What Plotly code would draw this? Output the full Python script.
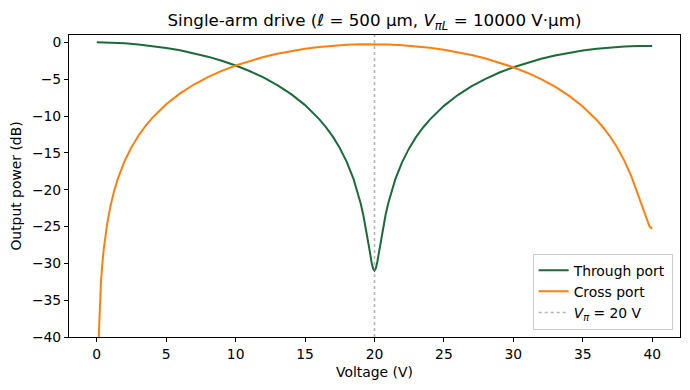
import plotly.graph_objects as go

# ---- data ----
V_PI = 20
Y_MIN, Y_MAX = -40, 1.0

through_v = [0, 1, 2, 3, 4, 5, 6, 7, 8, 9, 10, 11, 12, 13, 14, 15, 16, 16.5, 17, 17.5,
             18, 18.5, 19, 19.2, 19.4, 19.6, 19.8, 19.9, 20, 20.1, 20.2, 20.4, 20.6, 20.8,
             21, 21.5, 22, 22.5, 23, 23.5, 24, 25, 26, 27, 28, 29, 30, 31, 32, 33, 34,
             35, 36, 37, 38, 39, 40]
through_db = [0.000, -0.039, -0.133, -0.281, -0.486, -0.750, -1.078, -1.472, -1.941, -2.491,
              -3.134, -3.885, -4.763, -5.797, -7.027, -8.518, -10.378, -11.501, -12.802, -14.343,
              -16.221, -18.609, -21.842, -23.504, -25.458, -27.707, -29.951, -30.735, -31.003,
              -30.656, -29.821, -27.557, -25.330, -23.402, -21.763, -18.572, -16.214, -14.359,
              -12.838, -11.555, -10.448, -8.619, -7.157, -5.954, -4.948, -4.096, -3.372, -2.754,
              -2.230, -1.787, -1.417, -1.115, -0.876, -0.696, -0.573, -0.504, -0.489]

cross_v = [0.1, 0.2, 0.3, 0.4, 0.5, 0.75, 1, 1.25, 1.5, 2, 2.5, 3, 3.5, 4, 5, 6, 7, 8, 9,
           10, 11, 12, 13, 14, 15, 16, 17, 18, 19, 20, 21, 22, 23, 24, 25, 26, 27, 28, 29,
           30, 31, 32, 33, 34, 35, 36, 36.5, 37, 37.5, 38, 38.5, 39, 39.2, 39.4, 39.6, 39.8,
           39.9, 40]
cross_db = [-42.10, -36.08, -32.56, -30.06, -28.13, -24.61, -22.12, -20.19, -18.61, -16.14,
            -14.23, -12.67, -11.37, -10.25, -8.40, -6.93, -5.72, -4.71, -3.86, -3.134, -2.516,
            -1.990, -1.546, -1.176, -0.874, -0.635, -0.455, -0.331, -0.263, -0.248, -0.287,
            -0.380, -0.528, -0.732, -0.996, -1.322, -1.716, -2.183, -2.731, -3.372, -4.119,
            -4.992, -6.018, -7.236, -8.708, -10.531, -11.624, -12.879, -14.342, -16.084,
            -18.197, -20.780, -21.934, -23.103, -24.177, -24.961, -25.172, -25.230]

x_ticks = [0, 5, 10, 15, 20, 25, 30, 35, 40]
y_ticks = [0, -5, -10, -15, -20, -25, -30, -35, -40]

FONT = "DejaVu Sans"
FS = 13.9

fig = go.Figure()
fig.add_trace(go.Scatter(x=through_v, y=through_db, mode="lines", name="Through port",
                         line=dict(color="#1b6b3a", width=2)))
fig.add_trace(go.Scatter(x=cross_v, y=cross_db, mode="lines", name="Cross port",
                         line=dict(color="#ff7f0e", width=2)))
fig.add_trace(go.Scatter(x=[V_PI, V_PI], y=[Y_MIN, Y_MAX], mode="lines",
                         name="<i>V</i><sub><i>π</i></sub> = 20 V",
                         line=dict(color="rgba(128,128,128,0.6)", width=1.6, dash="dot")))

axis_common = dict(showline=True, mirror=True, linecolor="black", linewidth=1,
                   ticks="outside", ticklen=4, tickwidth=1, tickcolor="black",
                   showgrid=False, zeroline=False, automargin=False,
                   tickfont=dict(family=FONT, size=FS, color="black"))

# the page places the figure 8 px from the top-left corner; size accordingly
fig.update_layout(
    width=682, height=382,
    margin=dict(l=61, r=10, t=27, b=53),
    paper_bgcolor="white", plot_bgcolor="white",
    font=dict(family=FONT, size=FS, color="black"),
    title=dict(text="Single-arm drive (ℓ = 500 µm, <i>V</i><sub><i>πL</i></sub> = 10000 V·µm)",
               xref="paper", x=0.5, xanchor="center",
               yref="container", y=0.968, yanchor="middle",
               font=dict(family=FONT, size=16.7, color="black")),
    xaxis=dict(range=[-2, 42], tickvals=x_ticks,
               title=dict(text="Voltage (V)", standoff=6, font=dict(family=FONT, size=FS)),
               **axis_common),
    yaxis=dict(range=[Y_MIN, Y_MAX], tickvals=y_ticks,
               title=dict(text="Output power (dB)", standoff=10, font=dict(family=FONT, size=FS)),
               **axis_common),
    legend=dict(x=0.988, y=0.024, xanchor="right", yanchor="bottom",
                bgcolor="rgba(255,255,255,0.85)", bordercolor="#cccccc", borderwidth=1,
                font=dict(family=FONT, size=FS, color="black"), itemwidth=30,
                tracegroupgap=0),
    showlegend=True,
)

fig.write_html("out.html")
